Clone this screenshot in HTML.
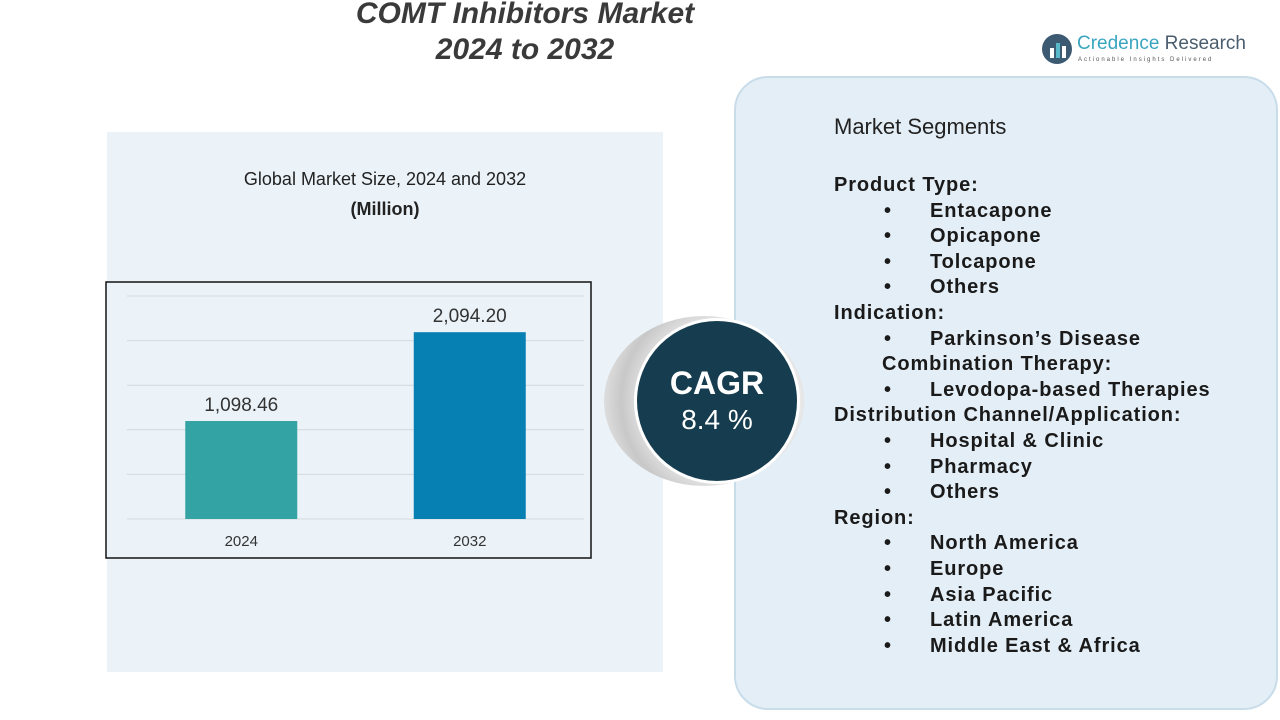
<!DOCTYPE html>
<html><head><meta charset="utf-8"><style>
body{margin:0;width:1280px;height:720px;background:#fff;position:relative;overflow:hidden;font-family:"Liberation Sans",sans-serif;}
.abs{position:absolute;}
#title{left:300px;top:-4px;width:450px;text-align:center;font-size:30px;font-weight:bold;font-style:italic;color:#3a3a3a;line-height:36px;}
#mapbg{left:107px;top:132px;width:556px;height:540px;background:#ebf3f9;}
#panel{left:734px;top:76px;width:544px;height:634px;background:#e4eef6;border:2px solid #c9dcea;border-radius:34px;box-sizing:border-box;}
.seg{font-size:20px;color:#1a1a1a;font-weight:bold;line-height:25.6px;letter-spacing:0.9px;}
</style></head><body>
<div id="title" class="abs">COMT Inhibitors Market<br>2024 to 2032</div>
<div class="abs" style="left:1040px;top:32px;width:220px;height:40px;">
<svg width="34" height="34" style="position:absolute;left:0;top:0"><circle cx="17" cy="17" r="15" fill="#3d5a73"/><rect x="10" y="16" width="4" height="10" fill="#fff"/><rect x="16" y="11" width="4" height="15" fill="#5ab9c9"/><rect x="22" y="14" width="4" height="12" fill="#fff"/></svg>
<div style="position:absolute;left:37px;top:1px;font-size:19px;color:#3aa5bf;">Credence <span style="color:#4a5d6e">Research</span></div>
<div style="position:absolute;left:38px;top:25px;font-size:6px;letter-spacing:2px;color:#555;">Actionable Insights Delivered</div>
</div>
<div id="mapbg" class="abs"></div>
<div class="abs" style="left:190px;top:164px;width:390px;text-align:center;font-size:18px;color:#222;line-height:30px;">Global Market Size, 2024 and 2032<br><b>(Million)</b></div>
<svg class="abs" style="left:0;top:0" width="700" height="720" id="chart">
<rect x="106" y="282" width="485" height="276" fill="none" stroke="#111" stroke-width="1.5"/>
</svg>
<div id="panel" class="abs"></div>
<div class="abs" style="left:604px;top:316px;width:200px;height:170px;border-radius:50%;background:radial-gradient(circle at 60% 50%,#fff 40%,#c8c8c8 70%,#fff 100%);"></div>
<div class="abs" style="left:634px;top:318px;width:166px;height:166px;border-radius:50%;background:#163d4f;border:3px solid #fff;box-sizing:border-box;color:#fff;text-align:center;">
<div style="font-size:32px;font-weight:bold;margin-top:44px;">CAGR</div><div style="font-size:28px;margin-top:2px;">8.4 %</div></div>
<div class="abs" style="left:834px;top:114px;font-size:22px;color:#222;">Market Segments</div>
<div class="abs seg" style="left:834px;top:173px;width:440px;height:500px;" id="segs"></div>
<script>
const categories=["2024","2032"];
const values=[1098.46,2094.20];
const labels=["1,098.46","2,094.20"];
const ticks=[0,500,1000,1500,2000,2500];
const colors=["#34a3a3","#0680b2"];
const x0=127,x1=584,yb=519,yt=296,ymax=2500;
const y=v=>yb-(v/ymax)*(yb-yt);
const band=(x1-x0)/categories.length;
const svg=document.getElementById('chart');
const ns="http://www.w3.org/2000/svg";
ticks.forEach(t=>{const l=document.createElementNS(ns,'line');
l.setAttribute('x1',x0);l.setAttribute('x2',x1);l.setAttribute('y1',y(t));l.setAttribute('y2',y(t));l.setAttribute('stroke','#d4d8dc');

svg.appendChild(l);});
categories.forEach((c,i)=>{const cx=x0+band*(i+0.5),w=112;
const r=document.createElementNS(ns,'rect');r.setAttribute('x',cx-w/2);r.setAttribute('y',y(values[i]));r.setAttribute('width',w);r.setAttribute('height',yb-y(values[i]));r.setAttribute('fill',colors[i]);

svg.appendChild(r);
const t=document.createElementNS(ns,'text');t.setAttribute('x',cx);t.setAttribute('y',y(values[i])-10);t.setAttribute('text-anchor','middle');t.setAttribute('font-size','19');t.setAttribute('fill','#333');t.textContent=labels[i];

svg.appendChild(t);
const a=document.createElementNS(ns,'text');a.setAttribute('x',cx);a.setAttribute('y',546);a.setAttribute('text-anchor','middle');a.setAttribute('font-size','15');a.setAttribute('fill','#333');a.textContent=c;

svg.appendChild(a);});
const rows=[["h","Product Type:"],["b","Entacapone"],["b","Opicapone"],["b","Tolcapone"],["b","Others"],["h","Indication:"],["b","Parkinson’s Disease"],["s","Combination Therapy:"],["b","Levodopa-based Therapies"],["h","Distribution Channel/Application:"],["b","Hospital & Clinic"],["b","Pharmacy"],["b","Others"],["h","Region:"],["b","North America"],["b","Europe"],["b","Asia Pacific"],["b","Latin America"],["b","Middle East & Africa"]];
const box=document.getElementById('segs');
rows.forEach((r,i)=>{const top=i*25.6;
if(r[0]==="b"){const b=document.createElement('div');b.className='abs';b.style.cssText=`left:50px;top:${top}px`;b.textContent='•';

box.appendChild(b);}
const d=document.createElement('div');d.className='abs';d.style.top=top+'px';d.style.left=(r[0]==="b"?96:r[0]==="s"?48:0)+'px';d.textContent=r[1];

box.appendChild(d);});
</script>
</body></html>
